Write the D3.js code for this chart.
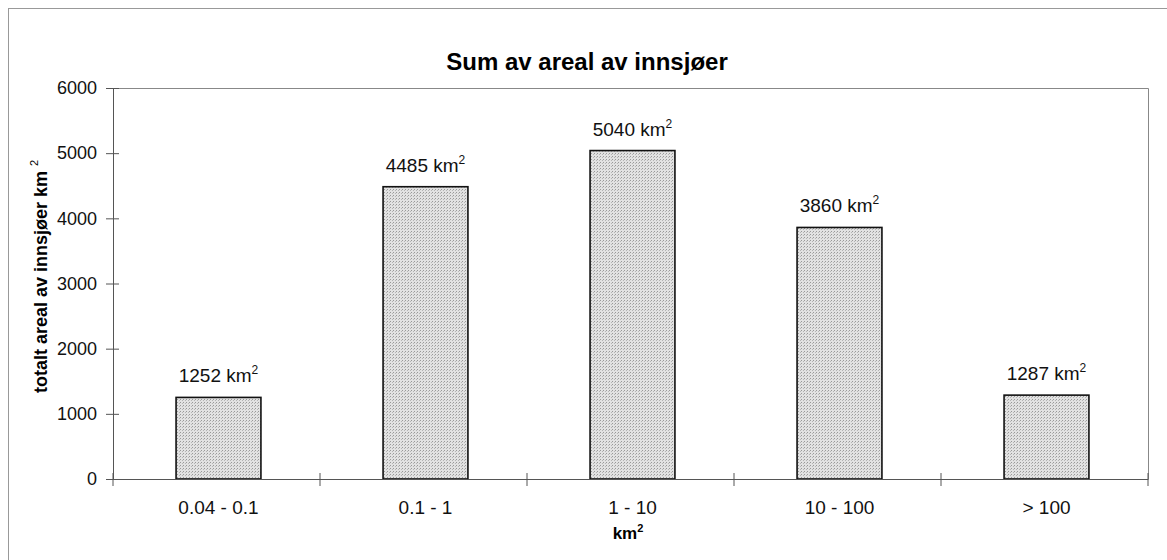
<!DOCTYPE html>
<html lang="no">
<head>
<meta charset="UTF-8">
<title>Sum av areal av innsjøer</title>
<script src="https://cdn.jsdelivr.net/npm/d3@7"></script>
<style>
    body { margin: 0; background: #fff; }
    svg { font-family: Arial, "Liberation Sans", sans-serif; }
</style>
</head>
<body>
<div id="graphic"></div>
<script>
    // data
    var categories = ['0.04 - 0.1', '0.1 - 1', '1 - 10', '10 - 100', '> 100'];
    var areas = [1252, 4485, 5040, 3860, 1287];
    var yTicks = [0, 1000, 2000, 3000, 4000, 5000, 6000];

    var width = 1167, height = 560;
    var margin = {top: 88, right: 19, bottom: 81, left: 113};
    var font = 'Arial, "Liberation Sans", sans-serif';

    var svg = d3.select('#graphic').append('svg')
        .attr('width', width)
        .attr('height', height);

    // stipple fill for the bars
    var pat = svg.append('defs').append('pattern')
        .attr('id', 'stipple')
        .attr('width', 3).attr('height', 3)
        .attr('patternUnits', 'userSpaceOnUse');
    pat.append('rect').attr('width', 3).attr('height', 3).attr('fill', '#e2e2e2');
    pat.append('rect').attr('width', 1).attr('height', 1).attr('fill', '#999');
    pat.append('rect').attr('x', 2).attr('y', 1).attr('width', 1).attr('height', 1).attr('fill', '#b5b5b5');

    // outer frame (only top and left show)
    svg.append('rect')
        .attr('x', 8.5).attr('y', 8.5)
        .attr('width', width + 20).attr('height', height + 20)
        .attr('fill', 'none')
        .attr('stroke', '#999')
        .attr('stroke-width', 1);

    var x = d3.scaleBand()
        .domain(categories)
        .range([margin.left, width - margin.right])
        .paddingInner(0.59)
        .paddingOuter(0.295);

    var y = d3.scaleLinear()
        .domain([0, 6000])
        .range([height - margin.bottom, margin.top]);

    // plot area border, top and right
    svg.append('path')
        .attr('d', 'M' + margin.left + ',' + (margin.top + 0.5) + 'H' + (width - margin.right + 0.5) + 'V' + (height - margin.bottom))
        .attr('fill', 'none')
        .attr('stroke', '#888');

    // title
    svg.append('text')
        .attr('x', 587)
        .attr('y', 70)
        .attr('text-anchor', 'middle')
        .attr('font-size', 24)
        .attr('font-weight', 'bold')
        .text('Sum av areal av innsjøer');

    // bars
    svg.selectAll('.bar')
        .data(areas)
        .join('rect')
        .attr('class', 'bar')
        .attr('x', (d, i) => x(categories[i]) + 2)
        .attr('y', d => y(d))
        .attr('width', x.bandwidth())
        .attr('height', d => y(0) - y(d))
        .attr('fill', 'url(#stipple)')
        .attr('stroke', '#111')
        .attr('stroke-width', 1.6);

    // value labels
    var labels = svg.selectAll('.val')
        .data(areas)
        .join('text')
        .attr('class', 'val')
        .attr('x', (d, i) => x(categories[i]) + 2 + x.bandwidth() / 2)
        .attr('y', d => y(d) - 15)
        .attr('text-anchor', 'middle')
        .attr('font-size', 19)
        .attr('fill', '#111');
    labels.append('tspan').text(d => d + ' km');
    labels.append('tspan').attr('dy', -8).attr('font-size', 12).text('2');

    // y axis, ticks cross the axis line
    var yAxis = svg.append('g')
        .attr('transform', 'translate(' + margin.left + ',0)')
        .call(d3.axisLeft(y).tickValues(yTicks).tickFormat(d3.format('d'))
            .tickSize(7).tickSizeOuter(0).tickPadding(9));
    yAxis.selectAll('.tick line').attr('x2', 6).attr('x1', -7).attr('stroke', '#555');
    yAxis.select('.domain').attr('stroke', '#555');
    yAxis.selectAll('text').attr('font-size', 18).attr('fill', '#111')
        .attr('font-family', font).attr('x', -16);

    // x axis, ticks sit between categories
    var xAxis = svg.append('g')
        .attr('transform', 'translate(0,' + (height - margin.bottom) + ')')
        .call(d3.axisBottom(x).tickSize(0).tickPadding(22));
    xAxis.select('.domain').attr('stroke', '#555');
    xAxis.selectAll('text').attr('font-size', 19).attr('fill', '#111')
        .attr('font-family', font)
        .attr('dx', 2);
    var step = x.step();
    xAxis.selectAll('.sep')
        .data(d3.range(categories.length + 1))
        .join('line')
        .attr('class', 'sep')
        .attr('x1', i => margin.left + i * step)
        .attr('x2', i => margin.left + i * step)
        .attr('y1', -6).attr('y2', 7)
        .attr('stroke', '#555');

    // x axis title
    var xt = svg.append('text')
        .attr('x', 628)
        .attr('y', 539)
        .attr('text-anchor', 'middle')
        .attr('font-size', 17)
        .attr('font-weight', 'bold');
    xt.append('tspan').text('km');
    xt.append('tspan').attr('dy', -7).attr('font-size', 11).text('2');

    // y axis title
    var yt = svg.append('text')
        .attr('transform', 'translate(47,393) rotate(-90)')
        .attr('text-anchor', 'start')
        .attr('font-size', 18)
        .attr('font-weight', 'bold');
    yt.append('tspan').text('totalt areal av innsjøer km ');
    yt.append('tspan').attr('dy', -9).attr('font-size', 11).attr('font-weight', 'normal').text('2');
</script>
</body>
</html>
